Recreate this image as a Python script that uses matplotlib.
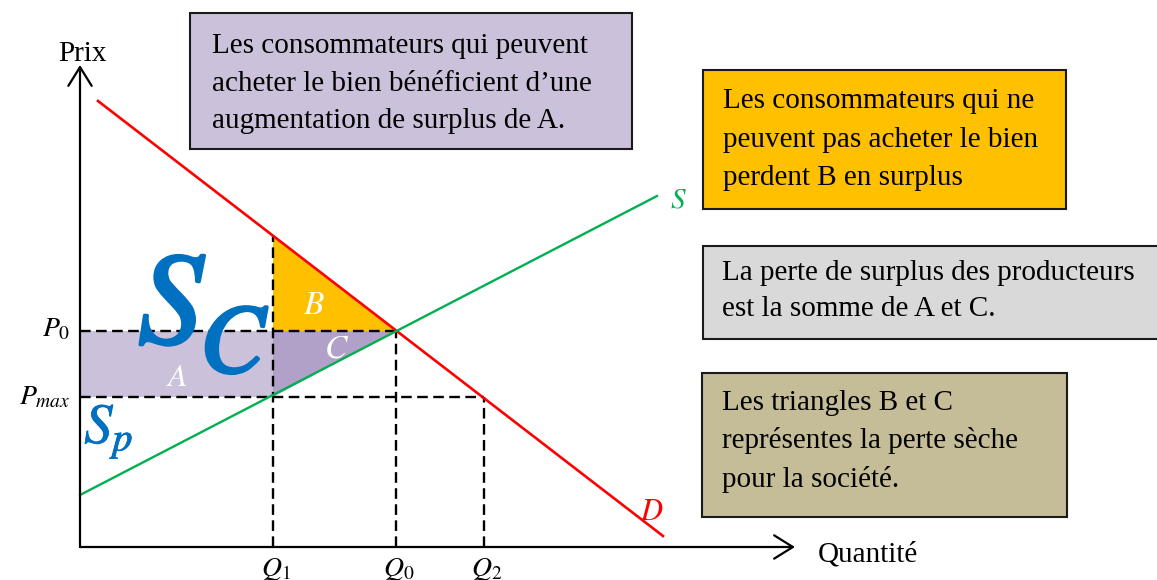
import matplotlib
matplotlib.use("Agg")
from matplotlib import pyplot as plt
from matplotlib import patheffects
from matplotlib.patches import Rectangle, Polygon

plt.rcParams['mathtext.fontset'] = 'stix'
plt.rcParams['font.family'] = ['Liberation Serif', 'DejaVu Serif']

# market data (quantity, price), origin at the axes corner
demand_q = [18, 583]
demand_p = [446, 11]
supply_q = [0, 577]
supply_p = [52, 351]

q1, q0, q2 = 193, 316, 404
p0, pmax = 216, 150
p_demand_q1 = 311      # price on the demand curve at Q1

q_ticks = [q1, q0, q2]
q_labels = [r'$Q_1$', r'$Q_0$', r'$Q_2$']
p_ticks = [p0, pmax]
p_labels = [r'$P_0$', r'$P_{max}$']

# colours
red = '#FF0000'
green = '#00B050'
orange = '#FFC000'
lilac = '#CCC1DA'
lilac_dark = '#B1A0C7'
grey = '#D9D9D9'
tan = '#C4BD97'
blue = '#0070C0'


# pixel position -> data position (figure is drawn 1:1 in pixels)
def px(x):
    return x - 80


def py(y):
    return 547 - y


fig = plt.figure(figsize=(11.57, 5.80), dpi=100)
ax = fig.add_axes([0, 0, 1, 1])
ax.set_xlim(-80, 1077)
ax.set_ylim(-33, 547)
ax.axis('off')

# surplus areas
ax.add_patch(Rectangle((0, pmax), q1, p0 - pmax, facecolor=lilac, edgecolor='none', zorder=1))
ax.add_patch(Polygon([(q1, pmax), (q1, p0), (q0, p0)], facecolor=lilac_dark, edgecolor='none', zorder=1))
ax.add_patch(Polygon([(q1, p0), (q1, p_demand_q1), (q0, p0)], facecolor=orange, edgecolor='none', zorder=1))

# dashed guides
dash = dict(color='black', lw=1.7, dashes=(4.5, 2.3), zorder=2)
ax.plot([0, q0], [p0, p0], **dash)
ax.plot([0, q2], [pmax, pmax], **dash)
ax.plot([q1, q1], [0, p_demand_q1], **dash)
ax.plot([q0, q0], [0, p0], **dash)
ax.plot([q2, q2], [0, pmax], **dash)

# curves
ax.plot(demand_q, demand_p, color=red, lw=1.9, zorder=3)
ax.plot(supply_q, supply_p, color=green, lw=1.7, zorder=3)

# axes with arrows
arrow = dict(arrowstyle='->,head_length=0.45,head_width=0.28', lw=1.6, color='black',
             mutation_scale=30, shrinkA=0, shrinkB=0)
ax.annotate('', xy=(0, py(65)), xytext=(0, 0), arrowprops=arrow, zorder=4)
ax.annotate('', xy=(px(795), 0), xytext=(0, 0), arrowprops=arrow, zorder=4)
ax.text(px(58), py(61), 'Prix', fontsize=21, va='baseline', ha='left')
ax.text(px(818), py(562), 'Quantité', fontsize=21, va='baseline', ha='left')

for q, lab in zip(q_ticks, q_labels):
    ax.text(q + 3, py(576), lab, fontsize=20, ha='center', va='baseline')
ax.text(px(70), p0 - 5, p_labels[0], fontsize=20, ha='right', va='baseline')
ax.text(px(70), pmax - 7, p_labels[1], fontsize=20, ha='right', va='baseline')

# curve and area labels
thick = [patheffects.withStroke(linewidth=2.5, foreground=blue)]
ax.text(px(670), py(207), r'$S$', fontsize=21, color=green, va='baseline')
ax.text(px(640), py(520), r'$D$', fontsize=22, color=red, va='baseline')
ax.text(px(166), py(386), r'$A$', fontsize=23, color='white', va='baseline', zorder=5)
ax.text(px(303), py(314), r'$B$', fontsize=24, color='white', va='baseline', zorder=5)
ax.text(px(324), py(358), r'$C$', fontsize=24, color='white', va='baseline', zorder=5)

ax.text(px(138), py(343), r'$S$', fontsize=94, color=blue, va='baseline', zorder=5,
        path_effects=thick)
ax.text(px(200), py(372), r'$C$', fontsize=70, color=blue, va='baseline', zorder=5,
        path_effects=thick)
ax.text(px(84), py(443), r'$S_p$', fontsize=41, color=blue, va='baseline', zorder=5,
        path_effects=[patheffects.withStroke(linewidth=0.6, foreground=blue)])

# explanation boxes: (left, top, right, bottom, colour, left text x, baselines, lines)
boxes = [
    (190, 13, 632, 149, lilac, 212, [53, 91, 128],
     ['Les consommateurs qui peuvent',
      'acheter le bien bénéficient d\u2019une',
      'augmentation de surplus de A.']),
    (703, 70, 1066, 209, orange, 723, [108, 147, 185],
     ['Les consommateurs qui ne',
      'peuvent pas acheter le bien',
      'perdent B en surplus']),
    (703, 246, 1175, 339, grey, 722, [280, 316],
     ['La perte de surplus des producteurs',
      'est la somme de A et C.']),
    (702, 373, 1067, 517, tan, 722, [410, 448, 487],
     ['Les triangles B et C',
      'représentes la perte sèche',
      'pour la société.']),
]
for left, top, right, bottom, col, tx, baselines, lines in boxes:
    ax.add_patch(Rectangle((px(left), py(bottom)), right - left, bottom - top,
                           facecolor=col, edgecolor='#1a1a1a', lw=1.5, zorder=6,
                           clip_on=False))
    for b, line in zip(baselines, lines):
        ax.text(px(tx), py(b), line, fontsize=21, va='baseline', ha='left', zorder=7)

fig.savefig('out.png', dpi=100)
